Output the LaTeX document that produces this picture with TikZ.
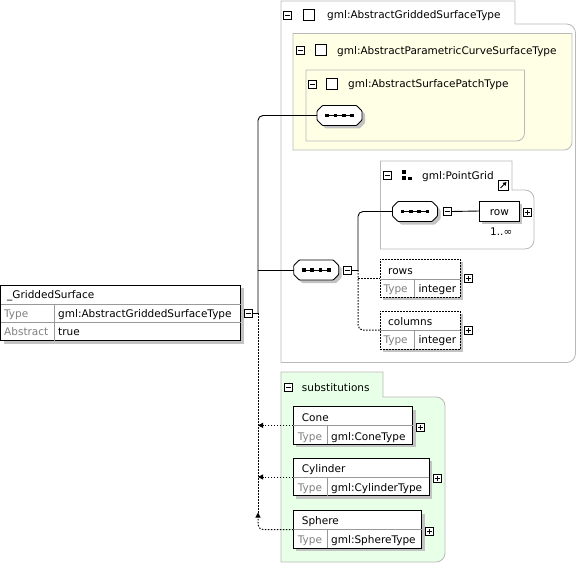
\documentclass[tikz,border=0pt]{standalone}
\usepackage{fontspec}
\setmainfont{DejaVu Sans}
\usetikzlibrary{arrows.meta,shadows}
\definecolor{pgray}{RGB}{185,185,185}
\definecolor{yel}{RGB}{255,255,230}
\definecolor{grn}{RGB}{232,255,232}
\definecolor{shad}{RGB}{195,195,195}
\definecolor{lbl}{RGB}{128,128,128}
\newcommand\seqicon[3]{%
  \begin{scope}[shift={(#2,#3)}]
    \fill[shad, shift={(3,3)}, rounded corners=0.7pt] (-22.5,-4.5) -- (-17,-10) -- (17,-10) -- (22.5,-4.5) -- (22.5,4.5) -- (17,10) -- (-17,10) -- (-22.5,4.5) -- cycle;
    \filldraw[fill=white, draw=black, line width=0.9pt, rounded corners=0.7pt] (-22.5,-4.5) -- (-17,-10) -- (17,-10) -- (22.5,-4.5) -- (22.5,4.5) -- (17,10) -- (-17,10) -- (-22.5,4.5) -- cycle;
    \draw[line width=0.8pt] (-14,0) -- (14,0);
    \foreach \d in {-12.5,-4.2,4.2,12.5} \fill (\d-1.8,-1.8) rectangle (\d+1.8,1.8);
  \end{scope}
  \node[seqn] (#1) at (#2,#3) {};
}
\begin{document}
\begin{tikzpicture}[x=1pt,y=-1pt, font=\fontsize{10.5}{12}\selectfont,
  panel/.style={draw=pgray, line width=0.8pt},
  ebox/.style={draw=black, fill=white, line width=0.9pt, inner sep=0, outer sep=0, anchor=north west,
     drop shadow={shadow xshift=3pt, shadow yshift=-3pt, fill=shad, opacity=1}},
  optbox/.style={ebox, dash pattern=on 1.5pt off 1.5pt},
  txt/.style={anchor=base west, inner sep=0},
  lbltxt/.style={txt, text=lbl},
  sepl/.style={draw=black!40, line width=0.7pt},
  conn/.style={draw=black, line width=0.9pt},
  dotc/.style={draw=black, line width=1pt, dash pattern=on 1.5pt off 1.5pt},
  tip/.style={-{Triangle[length=5pt,width=5pt]}},
  tog/.style={draw=black, fill=white, line width=0.7pt, minimum size=8pt, inner sep=0, outer sep=0},
  minus/.style={tog, path picture={\draw[line width=0.8pt] ([xshift=-2.5pt]path picture bounding box.center) -- ([xshift=2.5pt]path picture bounding box.center);}},
  plus/.style={tog, path picture={\draw[line width=0.8pt] ([xshift=-2.5pt]path picture bounding box.center) -- ([xshift=2.5pt]path picture bounding box.center) ([yshift=-2.5pt]path picture bounding box.center) -- ([yshift=2.5pt]path picture bounding box.center);}},
  hsq/.style={draw=black, fill=white, line width=0.8pt, minimum size=11pt, inner sep=0, outer sep=0},
  seqn/.style={minimum width=45pt, minimum height=20pt, inner sep=0, outer sep=0},
]
\useasboundingbox (0,0) rectangle (577,564);

% ---------- panels ----------
\draw[panel, fill=white] (281,1) -- (515,1) -- (515,24) -- (566.5,24) arc[start angle=270, end angle=360, radius=9] -- (575.5,353.5) arc[start angle=0, end angle=90, radius=9] -- (281,362.5) -- cycle;
\draw[panel, fill=yel] (293,33.5) -- (572,33.5) -- (572,142) arc[start angle=0, end angle=90, radius=8] -- (293,150) -- cycle;
\draw[panel, fill=yel] (306,70) -- (524.5,70) -- (524.5,133) arc[start angle=0, end angle=90, radius=8] -- (306,141) -- cycle;
\draw[panel, fill=white] (380.5,161) -- (512,161) -- (512,190) -- (525,190) arc[start angle=270, end angle=360, radius=9] -- (534,240) arc[start angle=0, end angle=90, radius=9] -- (380.5,249) -- cycle;
\draw[panel, fill=grn] (281,372) -- (383,372) -- (383,397) -- (436,397) arc[start angle=270, end angle=360, radius=9] -- (445,553) arc[start angle=0, end angle=90, radius=9] -- (281,562) -- cycle;

% ---------- panel headers ----------
\node[minus] (h1m) at (287.5,15.5) {};
\node[hsq] (h1s) at (308.5,15.2) {};
\node[txt] (h1t) at (327,18.8) {gml:AbstractGriddedSurfaceType};
\node[minus] (h2m) at (300,50.3) {};
\node[hsq] (h2s) at (320.5,50.3) {};
\node[txt] (h2t) at (337,54.3) {gml:AbstractParametricCurveSurfaceType};
\node[minus] (h3m) at (312.5,84.5) {};
\node[hsq] (h3s) at (332.2,83.8) {};
\node[txt] (h3t) at (348,88) {gml:AbstractSurfacePatchType};
\node[minus] (h4m) at (387,175) {};
\fill (402,170) rectangle (406,174);
\fill (402,176) rectangle (406,180);
\fill (408,176.5) rectangle (412,180);
\node[txt] (h4t) at (422,179) {gml:PointGrid};
\node[draw=black, fill=white, line width=0.7pt, minimum size=10pt, inner sep=0] (pglink) at (503.5,185) {};
\draw[line width=1pt, -{Triangle[length=3.5pt,width=4pt]}] ([shift={(-3,3)}]pglink.center) -- ([shift={(3,-3)}]pglink.center);
\node[minus] (h5m) at (288,387.7) {};
\node[txt] (h5t) at (301.7,391) {substitutions};

% ---------- main element ----------
\node[ebox, minimum width=240pt, minimum height=55.5pt] (gs) at (0.7,285) {};
\draw[sepl] (0.7,304.3) -- (240.7,304.3);
\draw[sepl] (0.7,322.3) -- (240.7,322.3);
\draw[sepl] (54.3,304.3) -- (54.3,340.5);
\node[txt] (gsn) at (7,298) {\_GriddedSurface};
\node[lbltxt] (gst) at (4,317) {Type};
\node[txt] (gsv) at (58,317) {gml:AbstractGriddedSurfaceType};
\node[lbltxt] (gsa) at (4,335) {Abstract};
\node[txt] (gsav) at (58,335) {true};
\node[minus] (gsm) at (248.7,313) {};

% ---------- sequences ----------
\seqicon{s1}{339.5}{115.5}
\seqicon{s2}{316.2}{270}
\seqicon{s3}{415}{211.5}
\node[minus] (s2m) at (347.5,270) {};
\node[minus] (s3m) at (447,211.5) {};

% ---------- row ----------
\node[ebox, minimum width=40pt, minimum height=20pt] (row) at (479.3,201) {};
\node[anchor=base, inner sep=0] (rowt) at (499.3,215.8) {row};
\node[plus] (rowp) at (527,212) {};
\node[txt] (rowmul) at (490,235.7) {1..∞};

% ---------- rows / columns ----------
\node[optbox, minimum width=80.3pt, minimum height=38.3pt] (rows) at (380,259) {};
\draw[sepl] (380,279) -- (460.3,279);
\draw[sepl] (414.3,279) -- (414.3,297.3);
\node[txt] (rowsn) at (388,274) {rows};
\node[lbltxt] (rowst) at (383.3,292) {Type};
\node[txt] (rowsv) at (418.3,292) {integer};
\node[plus] (rowsp) at (468,278.8) {};

\node[optbox, minimum width=80.3pt, minimum height=38.3pt] (cols) at (380,311) {};
\draw[sepl] (380,330.7) -- (460.3,330.7);
\draw[sepl] (414.3,330.7) -- (414.3,349.3);
\node[txt] (colsn) at (388,325) {columns};
\node[lbltxt] (colst) at (383.3,343.5) {Type};
\node[txt] (colsv) at (418.3,343.5) {integer};
\node[plus] (colsp) at (468,330.5) {};

% ---------- substitutions ----------
\node[ebox, minimum width=119.4pt, minimum height=37.3pt] (cone) at (293.3,406.7) {};
\draw[sepl] (293.3,425) -- (412.7,425);
\draw[sepl] (327.7,425) -- (327.7,444);
\node[txt] (conen) at (301.7,421) {Cone};
\node[lbltxt] (conet) at (297.7,440) {Type};
\node[txt] (conev) at (331,440) {gml:ConeType};
\node[plus] (conep) at (420.5,427) {};

\node[ebox, minimum width=136pt, minimum height=37.4pt] (cyl) at (293.3,458.3) {};
\draw[sepl] (293.3,477.3) -- (429.3,477.3);
\draw[sepl] (327.7,477.3) -- (327.7,495.7);
\node[txt] (cyln) at (301.7,472) {Cylinder};
\node[lbltxt] (cylt) at (297.7,491) {Type};
\node[txt] (cylv) at (331,491) {gml:CylinderType};
\node[plus] (cylp) at (437,478.7) {};

\node[ebox, minimum width=128.4pt, minimum height=37.6pt] (sph) at (293.3,510.7) {};
\draw[sepl] (293.3,529) -- (421.7,529);
\draw[sepl] (327.7,529) -- (327.7,548.3);
\node[txt] (sphn) at (301.7,524) {Sphere};
\node[lbltxt] (spht) at (297.7,543.5) {Type};
\node[txt] (sphv) at (331,543.5) {gml:SphereType};
\node[plus] (sphp) at (429.7,531) {};

% ---------- connectors ----------
\coordinate (trunk) at (258,313);
\coordinate (sphtip) at (258,512.5);
\coordinate (j2) at (358,270);
\draw[conn] (gsm.east) -- (trunk);
\draw[conn, rounded corners=5] (trunk) |- (s1.west);
\draw[conn] (trunk |- s2.west) -- (s2.west);
\draw[dotc] (trunk) -- (sphtip);
\draw[dotc, tip] (cone.west) -- (trunk |- cone.west);
\draw[dotc, tip] (cyl.west) -- (trunk |- cyl.west);
\draw[dotc, tip, rounded corners=5] (sph.west) -| (sphtip);
\draw[conn] (s2m.east) -- (j2);
\draw[conn, rounded corners=5] (j2) |- (s3.west);
\draw[dotc, rounded corners=5] (j2) |- (cols.west);
\draw[dotc] (j2 |- rows.west) -- (rows.west);
\draw[conn] (s3m.east) -- (row.west);
\end{tikzpicture}
\end{document}
